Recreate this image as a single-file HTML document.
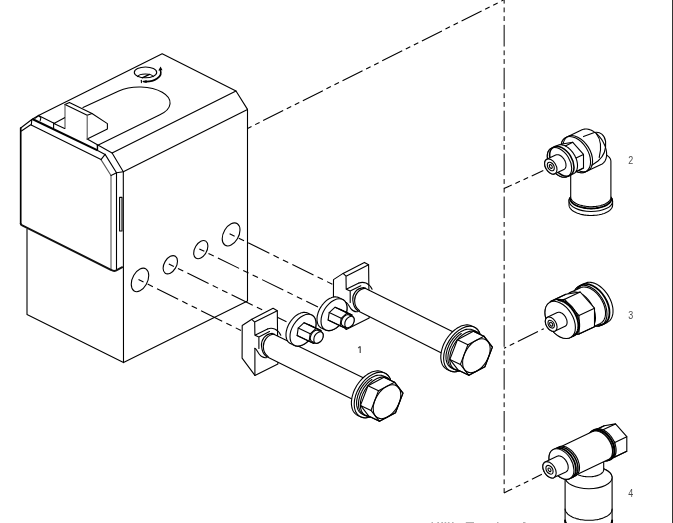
<!DOCTYPE html>
<html><head><meta charset="utf-8">
<style>
html,body{margin:0;padding:0;background:#fff;}
body{width:673px;height:523px;overflow:hidden;position:relative;}
svg{position:absolute;left:0;top:0;}
.l{fill:none;stroke:#000;stroke-width:1.1;stroke-linejoin:round;stroke-linecap:round;}
.w{fill:#fff;stroke:#000;stroke-width:1.1;stroke-linejoin:round;}
.ph{fill:none;stroke:#000;stroke-width:1.1;stroke-dasharray:23 4.5 6 4.5 6 4.5;}
.t{font-family:"Liberation Sans",sans-serif;font-size:10.5px;fill:#4a4a4a;filter:grayscale(1);}
</style></head><body>
<svg width="673" height="523" viewBox="0 0 673 523">
<!-- right border line -->
<rect x="672" y="0" width="1" height="523" fill="#333"/>

<!-- BLOCK -->
<g class="l">
 <!-- top face outline -->
 <path d="M38.5,115.4 L162.2,53.7 L236,91 L247.5,109.4 L247.5,301 L123.5,362.6 L27,314.6 L27,229"/>
 <path d="M236,91 L112.1,153 L123.3,171.7 L247.5,109.4"/>
 <path d="M123.3,171.7 L123.5,362.6"/>
 <!-- top-face left-front edge -->
 <path d="M38.5,115.4 L54,123.2 M87.2,139.1 L112.1,153"/>
 <!-- slot -->
 <path d="M83,107.6 L118.8,91.1 A29,15 0 0 1 159.9,114.8 L97.3,145.4"/>
 <path d="M97.3,145.4 L97.3,150"/>
 <!-- screw hole on top -->
 <ellipse cx="145.5" cy="72.4" rx="11.2" ry="5.35"/>
 <path d="M137.6,76.6 A8,3.4 0 0 1 153.2,76.6"/>
 <path d="M142.2,77.8 L149.5,74.4" style="stroke-width:1.4"/>
 <path d="M143.5,81.5 A15,9 0 0 0 160.2,70" style="stroke-width:1.6"/>
 <path d="M141.4,80.2 L141.4,82.6"/>
</g>
<path d="M160.6,66.6 L158.3,70.6 L162.5,70.2 Z M142.3,81.7 L146.6,79.9 L146.6,83 Z" fill="#000"/>
<!-- fin -->
<path d="M65,104.6 L69.4,102.6 L92,113.5 L107.4,123.6 L107.4,129 L87.2,139.1 L65,128.4 Z" fill="#fff" stroke="none"/>
<g class="l">
 <path d="M65,104.6 L69.4,102.6 L92,113.5 L107.4,123.6 L107.4,129 L87.2,139.1"/>
 <path d="M65,104.6 L87.2,115.3 L92,113.5"/>
 <path d="M87.2,115.3 L87.2,139.1 M65,104.6 L65,128.4" style="stroke:#555"/>
 <path d="M53.9,123.6 L64.6,117.7 M53.9,123.6 L64.6,128.4 M53.6,123 L53.6,128.6"/>
</g>
<!-- panel -->
<g class="l">
 <path d="M31.8,119.5 L38.5,115.4"/>
 <path d="M20.7,224 L20.7,128" style="stroke-width:1.7"/>
 <path d="M20.7,128 L31.8,119.5 L31.3,124.9"/>
 <path d="M21.4,131 L30.7,124.7 L101,159.6"/>
 <path d="M101,159.6 L111,175.5 L111,269.5" style="stroke:#555"/>
 <path d="M105.1,154.4 L116.5,172.8 L116.5,269.8"/>
 <path d="M111,175.5 Q113.5,174.6 116.5,172.8 L123.3,171.7 M101,159.6 L105.1,154.4"/>
 <path d="M119.6,197.4 L122,197.4 L122,231 L119.6,231 Z"/>
</g>
<path d="M32.3,119 L97.6,150.4" fill="none" stroke="#000" stroke-width="2"/>
<path class="l" d="M35,118.4 L38.6,115.8 L40.9,117.6 L40.2,120.6"/>
<path d="M97.6,150.4 L105.1,154.4 M97.6,145.4 L97.6,150.4" class="l"/>
<path d="M20.7,223.2 Q20.7,224.8 22.2,225.4 L111.4,270 Q113.8,271.6 116.3,270.4 L122.8,266.8" fill="none" stroke="#111" stroke-width="2"/>

<!-- holes on right face -->
<g class="l">
 <circle r="1" vector-effect="non-scaling-stroke" transform="matrix(8.75 -4.375 0 10.9 140 279.9)"/>
 <circle r="1" vector-effect="non-scaling-stroke" transform="matrix(7.2 -3.6 0 8.4 170.3 264.75)"/>
 <circle r="1" vector-effect="non-scaling-stroke" transform="matrix(7.1 -3.55 0 8.4 200.8 249.6)"/>
 <circle r="1" vector-effect="non-scaling-stroke" transform="matrix(8.9 -4.45 0 10.6 231.1 234.4)"/>
</g>
<!-- dashed centre lines from holes -->
<g class="ph" style="stroke-dasharray:23.6 4.6 5.9 4.6 5.9 4.6;stroke-dashoffset:28.5">
 <path d="M138.5,279.5 L242,331"/>
 <path d="M168.8,264 L286.5,321.7"/>
 <path d="M199.3,248.9 L318,307"/>
 <path d="M229.6,233.7 L332.7,284.4"/>
</g>
<!-- phantom lines to fittings -->
<path class="ph" style="stroke-dasharray:22.4 4 5 4 5 4;stroke-dashoffset:27" d="M247.6,128.4 L503.5,0"/>
<path class="ph" style="stroke-dasharray:21.6 3.9 4.8 3.9 4.8 3.9;stroke-dashoffset:18;stroke-width:1" d="M504.15,0 L504.15,492.9"/>
<g class="ph" style="stroke-dasharray:22.4 4 5 4 5 4">
 <path style="stroke-dashoffset:13.9" d="M504,188.6 L543.3,170.6"/>
 <path style="stroke-dashoffset:29" d="M504,348.2 L543.8,328.7"/>
 <path style="stroke-dashoffset:13.3" d="M504,492.9 L541.9,474.3"/>
</g>

<path class="w" d="M333.5,279.6 L343.1,273.4 L364.4,262.4 L368.6,264.8 L369.2,318.0 L346.2,329.5 L333.4,312.3 Z" />
<path class="l" transform="translate(91.3 -45.9)" d="M251.8,319.3 L254.7,322.1 L277.3,310.7 M254.7,322.1 L254.9,335.2 L267.6,328.9 M254.9,335.2 L258.9,337 L269.5,331.6 M258.9,337 L258.9,348.4 M254.9,348.4 L254.9,375.4"/>
<path class="w" d="M363.6,287.6 L461.4,336.0 L451.4,358.1 L357.7,310.7 C354.8,308.6 353.3,305.6 352.8,300.1 C352.3,294.1 356.3,288.1 363.6,287.6 Z"/>
<path class="l" transform="translate(91.3 -45.9)" d="M267.6,328.9 C272,327.4 277.6,328.6 280.8,335.2"/>
<path class="l" transform="translate(91.3 -45.9)" d="M274.2,334 C267.5,334.8 263.2,340.5 263.3,346.5 C263.4,351 265,354.5 268.2,356.7"/>
<path class="l" transform="translate(91.3 -45.9)" d="M254.9,348.4 C256.5,348.6 257.5,352 259.5,354.5 C261,356.5 263.5,358 266.4,357.6"/>
<path class="w" d="M471.7,325.9 L470.7,325.5 L469.7,325.2 L468.7,325.0 L467.6,324.9 L466.5,324.9 L465.4,325.0 L464.2,325.2 L463.0,325.5 L461.8,325.8 L460.6,326.3 L459.4,326.9 L458.2,327.5 L457.0,328.3 L455.8,329.1 L454.6,330.0 L453.4,331.0 L452.3,332.0 L451.2,333.1 L450.1,334.3 L449.1,335.5 L448.1,336.8 L447.1,338.2 L446.2,339.5 L445.4,340.9 L444.6,342.4 L443.9,343.8 L443.3,345.3 L442.7,346.8 L442.2,348.3 L441.8,349.8 L441.4,351.3 L441.2,352.7 L441.0,354.2 L440.8,355.6 L440.8,357.0 L440.8,358.3 L441.0,359.6 L441.2,360.8 L441.4,362.0 L441.8,363.2 L442.2,364.2 L442.7,365.2 L443.3,366.1 L443.9,366.9 L444.6,367.7 L445.4,368.4 L446.2,368.9 L447.1,369.4 L449.9,370.8 L450.9,371.2 L451.9,371.4 L452.9,371.7 L454.0,371.8 L455.1,371.8 L456.2,371.7 L457.4,371.5 L458.6,371.2 L459.8,370.8 L461.0,370.4 L462.2,369.8 L463.4,369.1 L464.6,368.4 L465.8,367.6 L467.0,366.7 L468.2,365.7 L469.3,364.6 L470.4,363.5 L471.5,362.4 L472.5,361.1 L473.5,359.8 L474.5,358.5 L475.4,357.1 L476.2,355.7 L477.0,354.3 L477.7,352.8 L478.3,351.3 L478.9,349.8 L479.4,348.4 L479.8,346.9 L480.2,345.4 L480.4,343.9 L480.6,342.5 L480.8,341.1 L480.8,339.7 L480.8,338.4 L480.6,337.1 L480.4,335.8 L480.2,334.6 L479.8,333.5 L479.4,332.4 L478.9,331.5 L478.3,330.5 L477.7,329.7 L477.0,329.0 L476.2,328.3 L475.4,327.7 L474.5,327.2 Z" /><circle r="1" class="w" vector-effect="non-scaling-stroke" transform="matrix(18.600 -9.300 0.000 -20.795 462.20 348.99)" />
<path class="w" d="M472.9,330.0 L472.1,329.7 L471.2,329.4 L470.3,329.3 L469.4,329.2 L468.4,329.2 L467.4,329.2 L466.4,329.4 L465.4,329.6 L464.3,330.0 L463.3,330.4 L462.2,330.9 L461.1,331.4 L460.1,332.1 L459.0,332.8 L458.0,333.6 L457.0,334.4 L456.0,335.4 L455.0,336.3 L454.1,337.4 L453.2,338.4 L452.3,339.6 L451.5,340.7 L450.7,341.9 L450.0,343.1 L449.3,344.4 L448.7,345.7 L448.2,347.0 L447.7,348.2 L447.2,349.5 L446.9,350.8 L446.6,352.1 L446.3,353.4 L446.1,354.7 L446.0,355.9 L446.0,357.1 L446.0,358.3 L446.1,359.4 L446.3,360.5 L446.6,361.5 L446.9,362.5 L447.2,363.4 L447.7,364.3 L448.2,365.1 L448.7,365.8 L449.3,366.4 L450.0,367.0 L450.7,367.5 L451.5,368.0 L455.2,369.7 L456.0,370.0 L456.9,370.3 L457.8,370.5 L458.7,370.6 L459.7,370.6 L460.7,370.5 L461.7,370.3 L462.7,370.1 L463.8,369.8 L464.8,369.4 L465.9,368.9 L467.0,368.3 L468.0,367.6 L469.1,366.9 L470.1,366.1 L471.1,365.3 L472.1,364.4 L473.1,363.4 L474.0,362.4 L474.9,361.3 L475.8,360.2 L476.6,359.0 L477.4,357.8 L478.1,356.6 L478.8,355.3 L479.4,354.1 L479.9,352.8 L480.4,351.5 L480.9,350.2 L481.2,348.9 L481.5,347.6 L481.8,346.3 L482.0,345.1 L482.1,343.9 L482.1,342.6 L482.1,341.5 L482.0,340.4 L481.8,339.3 L481.5,338.2 L481.2,337.3 L480.9,336.3 L480.4,335.5 L479.9,334.7 L479.4,334.0 L478.8,333.3 L478.1,332.7 L477.4,332.2 L476.6,331.8 Z" /><circle r="1" class="w" vector-effect="non-scaling-stroke" transform="matrix(16.200 -8.100 0.000 -18.112 465.90 350.75)" />
<path class="l" d="M461.3,333.5 L460.3,334.2 L459.4,334.9 L458.5,335.7 L457.6,336.5 L456.7,337.4 L455.9,338.4 L455.1,339.4 L454.3,340.4 L453.5,341.4 L452.8,342.5 L452.2,343.6 L451.5,344.7 L451.0,345.9 L450.4,347.0 L449.9,348.2 L449.5,349.4 L449.1,350.6 L448.8,351.8 L448.5,352.9 L448.2,354.1 L448.1,355.2 L448.0,356.4 L447.9,357.5 L447.9,358.5 L448.0,359.6 L448.1,360.6 L448.2,361.6 L448.5,362.5 L448.8,363.4 L449.1,364.2 L449.5,365.0 L449.9,365.7 L450.4,366.4 L451.0,367.0 L451.5,367.6 L452.2,368.1 L452.8,368.5 L453.5,368.9 L454.3,369.2 L455.1,369.4 L455.9,369.6 L456.7,369.7 L457.6,369.7 L458.5,369.7 L459.4,369.6 L460.3,369.4 L461.3,369.1" />
<path class="w" d="M449.9,359.4 L457.4,339.8 L473.4,331.2 L483.9,336.2 L492.4,347.1 L484.9,366.7 L468.9,375.3 L458.4,370.3 Z" /><path class="l" d="M483.9,336.2 L467.9,344.8 L460.4,364.4 L468.9,375.3 L484.9,366.7 L492.4,347.1 Z" /><path class="l" d="M473.4,331.2 L483.9,336.2" /><path class="l" d="M457.4,339.8 L467.9,344.8" /><path class="l" d="M449.9,359.4 L460.4,364.4" /><path class="l" d="M458.4,370.3 L468.9,375.3" />
<circle r="1" class="l" vector-effect="non-scaling-stroke" transform="matrix(13.800 -6.900 0.000 -15.428 476.40 355.74)" />
<path class="w" d="M338.6,297.6 L337.9,297.3 L337.2,297.1 L336.5,297.0 L335.7,296.9 L335.0,296.9 L334.2,296.9 L333.4,297.1 L332.5,297.3 L331.7,297.5 L330.9,297.9 L330.0,298.3 L329.1,298.7 L328.3,299.2 L327.5,299.8 L326.6,300.4 L325.8,301.1 L325.0,301.9 L324.3,302.6 L323.5,303.5 L322.8,304.3 L322.1,305.2 L321.4,306.2 L320.8,307.1 L320.2,308.1 L319.7,309.1 L319.2,310.1 L318.7,311.2 L318.3,312.2 L318.0,313.2 L317.7,314.3 L317.4,315.3 L317.2,316.3 L317.1,317.3 L317.0,318.3 L317.0,319.3 L317.0,320.2 L317.1,321.1 L317.2,322.0 L317.4,322.8 L317.7,323.6 L318.0,324.4 L318.3,325.1 L318.7,325.7 L319.2,326.3 L319.7,326.8 L320.2,327.3 L320.8,327.7 L321.4,328.0 L325.4,329.9 L326.1,330.2 L326.8,330.4 L327.5,330.5 L328.3,330.6 L329.0,330.6 L329.8,330.6 L330.6,330.4 L331.5,330.2 L332.3,330.0 L333.1,329.6 L334.0,329.2 L334.9,328.8 L335.7,328.3 L336.5,327.7 L337.4,327.1 L338.2,326.4 L339.0,325.6 L339.7,324.9 L340.5,324.0 L341.2,323.2 L341.9,322.3 L342.6,321.3 L343.2,320.4 L343.8,319.4 L344.3,318.4 L344.8,317.4 L345.3,316.3 L345.7,315.3 L346.0,314.3 L346.3,313.2 L346.6,312.2 L346.8,311.2 L346.9,310.2 L347.0,309.2 L347.0,308.2 L347.0,307.3 L346.9,306.4 L346.8,305.5 L346.6,304.7 L346.3,303.9 L346.0,303.1 L345.7,302.4 L345.3,301.8 L344.8,301.2 L344.3,300.7 L343.8,300.2 L343.2,299.8 L342.6,299.5 Z" /><circle r="1" class="w" vector-effect="non-scaling-stroke" transform="matrix(13.000 -6.500 0.000 -14.534 334.00 314.70)" />
<path class="w" d="M328.1,320.1 L329.2,312.6 L335.1,307.2 L339.9,309.3 L351.9,315.0 L350.8,322.5 L344.9,327.9 L340.1,325.8 Z" /><path class="l" d="M351.9,315.0 L347.1,312.9 L341.2,318.3 L340.1,325.8 L344.9,327.9 L350.8,322.5 Z" /><path class="l" d="M339.9,309.3 L351.9,315.0" /><path class="l" d="M335.1,307.2 L347.1,312.9" /><path class="l" d="M329.2,312.6 L341.2,318.3" /><path class="l" d="M328.1,320.1 L340.1,325.8" />
<path class="w" d="M349.1,314.9 L348.9,314.8 L348.6,314.7 L348.4,314.7 L348.1,314.6 L347.8,314.6 L347.5,314.7 L347.2,314.7 L346.9,314.8 L346.6,314.9 L346.3,315.0 L346.0,315.1 L345.7,315.3 L345.4,315.5 L345.1,315.7 L344.8,315.9 L344.5,316.2 L344.2,316.4 L343.9,316.7 L343.6,317.0 L343.4,317.3 L343.1,317.7 L342.9,318.0 L342.7,318.3 L342.5,318.7 L342.3,319.1 L342.1,319.4 L341.9,319.8 L341.8,320.2 L341.7,320.6 L341.5,320.9 L341.5,321.3 L341.4,321.7 L341.3,322.0 L341.3,322.4 L341.3,322.8 L341.3,323.1 L341.3,323.4 L341.4,323.7 L341.5,324.0 L341.5,324.3 L341.7,324.6 L341.8,324.8 L341.9,325.1 L342.1,325.3 L342.3,325.5 L342.5,325.6 L342.7,325.8 L342.9,325.9 L346.4,327.6 L346.6,327.7 L346.9,327.7 L347.1,327.8 L347.4,327.8 L347.7,327.8 L348.0,327.8 L348.3,327.7 L348.6,327.7 L348.9,327.6 L349.2,327.5 L349.5,327.3 L349.8,327.2 L350.1,327.0 L350.4,326.8 L350.7,326.5 L351.0,326.3 L351.3,326.0 L351.6,325.7 L351.9,325.4 L352.1,325.1 L352.4,324.8 L352.6,324.5 L352.8,324.1 L353.0,323.8 L353.2,323.4 L353.4,323.0 L353.6,322.7 L353.7,322.3 L353.8,321.9 L354.0,321.5 L354.0,321.2 L354.1,320.8 L354.2,320.4 L354.2,320.1 L354.2,319.7 L354.2,319.4 L354.2,319.0 L354.1,318.7 L354.0,318.4 L354.0,318.1 L353.8,317.9 L353.7,317.6 L353.6,317.4 L353.4,317.2 L353.2,317.0 L353.0,316.8 L352.8,316.7 L352.6,316.6 Z" /><circle r="1" class="w" vector-effect="non-scaling-stroke" transform="matrix(4.700 -2.350 0.000 -5.255 349.50 322.06)" />
<path class="w" d="M242.2,325.5 L251.8,319.3 L273.1,308.3 L277.3,310.7 L277.9,363.9 L254.9,375.4 L242.1,358.2 Z" />
<path class="l" transform="translate(0 0)" d="M251.8,319.3 L254.7,322.1 L277.3,310.7 M254.7,322.1 L254.9,335.2 L267.6,328.9 M254.9,335.2 L258.9,337 L269.5,331.6 M258.9,337 L258.9,348.4 M254.9,348.4 L254.9,375.4"/>
<path class="w" d="M272.3,333.4 L372.0,382.0 L362.0,404.1 L266.4,356.6 C263.5,354.5 262.0,351.5 261.5,346.0 C261.0,340.0 265.0,334.0 272.3,333.4 Z"/>
<path class="l" transform="translate(0 0)" d="M267.6,328.9 C272,327.4 277.6,328.6 280.8,335.2"/>
<path class="l" transform="translate(0 0)" d="M274.2,334 C267.5,334.8 263.2,340.5 263.3,346.5 C263.4,351 265,354.5 268.2,356.7"/>
<path class="l" transform="translate(0 0)" d="M254.9,348.4 C256.5,348.6 257.5,352 259.5,354.5 C261,356.5 263.5,358 266.4,357.6"/>
<path class="w" d="M382.3,371.9 L381.3,371.5 L380.3,371.2 L379.3,371.0 L378.2,370.9 L377.1,370.9 L376.0,371.0 L374.8,371.2 L373.6,371.5 L372.4,371.8 L371.2,372.3 L370.0,372.9 L368.8,373.5 L367.6,374.3 L366.4,375.1 L365.2,376.0 L364.0,377.0 L362.9,378.0 L361.8,379.1 L360.7,380.3 L359.7,381.5 L358.7,382.8 L357.7,384.2 L356.8,385.5 L356.0,386.9 L355.2,388.4 L354.5,389.8 L353.9,391.3 L353.3,392.8 L352.8,394.3 L352.4,395.8 L352.0,397.3 L351.8,398.7 L351.6,400.2 L351.4,401.6 L351.4,403.0 L351.4,404.3 L351.6,405.6 L351.8,406.8 L352.0,408.0 L352.4,409.2 L352.8,410.2 L353.3,411.2 L353.9,412.1 L354.5,412.9 L355.2,413.7 L356.0,414.4 L356.8,414.9 L357.7,415.4 L360.5,416.8 L361.5,417.2 L362.5,417.4 L363.5,417.7 L364.6,417.8 L365.7,417.8 L366.8,417.7 L368.0,417.5 L369.2,417.2 L370.4,416.8 L371.6,416.4 L372.8,415.8 L374.0,415.1 L375.2,414.4 L376.4,413.6 L377.6,412.7 L378.8,411.7 L379.9,410.6 L381.0,409.5 L382.1,408.4 L383.1,407.1 L384.1,405.8 L385.1,404.5 L386.0,403.1 L386.8,401.7 L387.6,400.3 L388.3,398.8 L388.9,397.3 L389.5,395.8 L390.0,394.4 L390.4,392.9 L390.8,391.4 L391.0,389.9 L391.2,388.5 L391.4,387.1 L391.4,385.7 L391.4,384.4 L391.2,383.1 L391.0,381.8 L390.8,380.6 L390.4,379.5 L390.0,378.4 L389.5,377.5 L388.9,376.5 L388.3,375.7 L387.6,375.0 L386.8,374.3 L386.0,373.7 L385.1,373.2 Z" /><circle r="1" class="w" vector-effect="non-scaling-stroke" transform="matrix(18.600 -9.300 0.000 -20.795 372.80 394.99)" />
<path class="w" d="M383.5,376.0 L382.7,375.7 L381.8,375.4 L380.9,375.3 L380.0,375.2 L379.0,375.2 L378.0,375.2 L377.0,375.4 L376.0,375.6 L374.9,376.0 L373.9,376.4 L372.8,376.9 L371.7,377.4 L370.7,378.1 L369.6,378.8 L368.6,379.6 L367.6,380.4 L366.6,381.4 L365.6,382.3 L364.7,383.4 L363.8,384.4 L362.9,385.6 L362.1,386.7 L361.3,387.9 L360.6,389.1 L359.9,390.4 L359.3,391.7 L358.8,393.0 L358.3,394.2 L357.8,395.5 L357.5,396.8 L357.2,398.1 L356.9,399.4 L356.7,400.7 L356.6,401.9 L356.6,403.1 L356.6,404.3 L356.7,405.4 L356.9,406.5 L357.2,407.5 L357.5,408.5 L357.8,409.4 L358.3,410.3 L358.8,411.1 L359.3,411.8 L359.9,412.4 L360.6,413.0 L361.3,413.5 L362.1,414.0 L365.8,415.7 L366.6,416.0 L367.5,416.3 L368.4,416.5 L369.3,416.6 L370.3,416.6 L371.3,416.5 L372.3,416.3 L373.3,416.1 L374.4,415.8 L375.4,415.4 L376.5,414.9 L377.6,414.3 L378.6,413.6 L379.7,412.9 L380.7,412.1 L381.7,411.3 L382.7,410.4 L383.7,409.4 L384.6,408.4 L385.5,407.3 L386.4,406.2 L387.2,405.0 L388.0,403.8 L388.7,402.6 L389.4,401.3 L390.0,400.1 L390.5,398.8 L391.0,397.5 L391.5,396.2 L391.8,394.9 L392.1,393.6 L392.4,392.3 L392.6,391.1 L392.7,389.9 L392.7,388.6 L392.7,387.5 L392.6,386.4 L392.4,385.3 L392.1,384.2 L391.8,383.3 L391.5,382.3 L391.0,381.5 L390.5,380.7 L390.0,380.0 L389.4,379.3 L388.7,378.7 L388.0,378.2 L387.2,377.8 Z" /><circle r="1" class="w" vector-effect="non-scaling-stroke" transform="matrix(16.200 -8.100 0.000 -18.112 376.50 396.75)" />
<path class="l" d="M371.9,379.5 L370.9,380.2 L370.0,380.9 L369.1,381.7 L368.2,382.5 L367.3,383.4 L366.5,384.4 L365.7,385.4 L364.9,386.4 L364.1,387.4 L363.4,388.5 L362.8,389.6 L362.1,390.7 L361.6,391.9 L361.0,393.0 L360.5,394.2 L360.1,395.4 L359.7,396.6 L359.4,397.8 L359.1,398.9 L358.8,400.1 L358.7,401.2 L358.6,402.4 L358.5,403.5 L358.5,404.5 L358.6,405.6 L358.7,406.6 L358.8,407.6 L359.1,408.5 L359.4,409.4 L359.7,410.2 L360.1,411.0 L360.5,411.7 L361.0,412.4 L361.6,413.0 L362.1,413.6 L362.8,414.1 L363.4,414.5 L364.1,414.9 L364.9,415.2 L365.7,415.4 L366.5,415.6 L367.3,415.7 L368.2,415.7 L369.1,415.7 L370.0,415.6 L370.9,415.4 L371.9,415.1" />
<path class="w" d="M360.5,405.4 L368.0,385.8 L384.0,377.2 L394.5,382.2 L403.0,393.1 L395.5,412.7 L379.5,421.3 L369.0,416.3 Z" /><path class="l" d="M394.5,382.2 L378.5,390.8 L371.0,410.4 L379.5,421.3 L395.5,412.7 L403.0,393.1 Z" /><path class="l" d="M384.0,377.2 L394.5,382.2" /><path class="l" d="M368.0,385.8 L378.5,390.8" /><path class="l" d="M360.5,405.4 L371.0,410.4" /><path class="l" d="M369.0,416.3 L379.5,421.3" />
<circle r="1" class="l" vector-effect="non-scaling-stroke" transform="matrix(13.800 -6.900 0.000 -15.428 387.00 401.74)" />
<path class="w" d="M307.6,313.1 L306.9,312.8 L306.2,312.6 L305.5,312.5 L304.7,312.4 L304.0,312.4 L303.2,312.4 L302.4,312.6 L301.5,312.8 L300.7,313.0 L299.9,313.4 L299.0,313.8 L298.1,314.2 L297.3,314.7 L296.5,315.3 L295.6,315.9 L294.8,316.6 L294.0,317.4 L293.3,318.1 L292.5,319.0 L291.8,319.8 L291.1,320.7 L290.4,321.7 L289.8,322.6 L289.2,323.6 L288.7,324.6 L288.2,325.6 L287.7,326.7 L287.3,327.7 L287.0,328.7 L286.7,329.8 L286.4,330.8 L286.2,331.8 L286.1,332.8 L286.0,333.8 L286.0,334.8 L286.0,335.7 L286.1,336.6 L286.2,337.5 L286.4,338.3 L286.7,339.1 L287.0,339.9 L287.3,340.6 L287.7,341.2 L288.2,341.8 L288.7,342.3 L289.2,342.8 L289.8,343.2 L290.4,343.5 L294.4,345.4 L295.1,345.7 L295.8,345.9 L296.5,346.0 L297.3,346.1 L298.0,346.1 L298.8,346.1 L299.6,345.9 L300.5,345.7 L301.3,345.5 L302.1,345.1 L303.0,344.7 L303.9,344.3 L304.7,343.8 L305.5,343.2 L306.4,342.6 L307.2,341.9 L308.0,341.1 L308.7,340.4 L309.5,339.5 L310.2,338.7 L310.9,337.8 L311.6,336.8 L312.2,335.9 L312.8,334.9 L313.3,333.9 L313.8,332.9 L314.3,331.8 L314.7,330.8 L315.0,329.8 L315.3,328.7 L315.6,327.7 L315.8,326.7 L315.9,325.7 L316.0,324.7 L316.0,323.7 L316.0,322.8 L315.9,321.9 L315.8,321.0 L315.6,320.2 L315.3,319.4 L315.0,318.6 L314.7,317.9 L314.3,317.3 L313.8,316.7 L313.3,316.2 L312.8,315.7 L312.2,315.3 L311.6,315.0 Z" /><circle r="1" class="w" vector-effect="non-scaling-stroke" transform="matrix(13.000 -6.500 0.000 -14.534 303.00 330.20)" />
<path class="w" d="M297.1,335.6 L298.2,328.1 L304.1,322.7 L308.9,324.8 L320.9,330.5 L319.8,338.0 L313.9,343.4 L309.1,341.3 Z" /><path class="l" d="M320.9,330.5 L316.1,328.4 L310.2,333.8 L309.1,341.3 L313.9,343.4 L319.8,338.0 Z" /><path class="l" d="M308.9,324.8 L320.9,330.5" /><path class="l" d="M304.1,322.7 L316.1,328.4" /><path class="l" d="M298.2,328.1 L310.2,333.8" /><path class="l" d="M297.1,335.6 L309.1,341.3" />
<path class="w" d="M318.1,330.4 L317.9,330.3 L317.6,330.2 L317.4,330.2 L317.1,330.1 L316.8,330.1 L316.5,330.2 L316.2,330.2 L315.9,330.3 L315.6,330.4 L315.3,330.5 L315.0,330.6 L314.7,330.8 L314.4,331.0 L314.1,331.2 L313.8,331.4 L313.5,331.7 L313.2,331.9 L312.9,332.2 L312.6,332.5 L312.4,332.8 L312.1,333.2 L311.9,333.5 L311.7,333.8 L311.5,334.2 L311.3,334.6 L311.1,334.9 L310.9,335.3 L310.8,335.7 L310.7,336.1 L310.5,336.4 L310.5,336.8 L310.4,337.2 L310.3,337.5 L310.3,337.9 L310.3,338.3 L310.3,338.6 L310.3,338.9 L310.4,339.2 L310.5,339.5 L310.5,339.8 L310.7,340.1 L310.8,340.3 L310.9,340.6 L311.1,340.8 L311.3,341.0 L311.5,341.1 L311.7,341.3 L311.9,341.4 L315.4,343.1 L315.6,343.2 L315.9,343.2 L316.1,343.3 L316.4,343.3 L316.7,343.3 L317.0,343.3 L317.3,343.2 L317.6,343.2 L317.9,343.1 L318.2,343.0 L318.5,342.8 L318.8,342.7 L319.1,342.5 L319.4,342.3 L319.7,342.0 L320.0,341.8 L320.3,341.5 L320.6,341.2 L320.9,340.9 L321.1,340.6 L321.4,340.3 L321.6,340.0 L321.8,339.6 L322.0,339.3 L322.2,338.9 L322.4,338.5 L322.6,338.2 L322.7,337.8 L322.8,337.4 L323.0,337.0 L323.0,336.7 L323.1,336.3 L323.2,335.9 L323.2,335.6 L323.2,335.2 L323.2,334.9 L323.2,334.5 L323.1,334.2 L323.0,333.9 L323.0,333.6 L322.8,333.4 L322.7,333.1 L322.6,332.9 L322.4,332.7 L322.2,332.5 L322.0,332.3 L321.8,332.2 L321.6,332.1 Z" /><circle r="1" class="w" vector-effect="non-scaling-stroke" transform="matrix(4.700 -2.350 0.000 -5.255 318.50 337.56)" />
<path class="w" d="M607.3,322.4 L608.1,321.9 L608.8,321.4 L609.5,320.8 L610.2,320.1 L610.7,319.3 L611.3,318.5 L611.7,317.6 L612.1,316.7 L612.4,315.6 L612.7,314.6 L612.9,313.4 L613.0,312.3 L613.0,311.1 L613.0,309.8 L612.9,308.5 L612.7,307.2 L612.4,305.9 L612.1,304.6 L611.7,303.2 L611.3,301.9 L610.7,300.6 L610.2,299.2 L609.5,297.9 L608.8,296.6 L608.1,295.4 L607.3,294.1 L606.4,292.9 L605.5,291.8 L604.6,290.7 L603.6,289.6 L602.6,288.6 L601.6,287.7 L600.5,286.8 L599.5,286.0 L598.4,285.3 L597.3,284.6 L596.2,284.0 L595.1,283.5 L594.0,283.1 L592.9,282.8 L591.9,282.6 L590.8,282.4 L589.8,282.3 L588.8,282.3 L587.8,282.4 L586.9,282.6 L586.0,282.9 L585.1,283.3 L579.1,286.1 L578.3,286.6 L577.6,287.1 L576.9,287.7 L576.2,288.4 L575.7,289.2 L575.1,290.0 L574.7,290.9 L574.3,291.8 L574.0,292.9 L573.7,293.9 L573.5,295.1 L573.4,296.2 L573.4,297.4 L573.4,298.7 L573.5,300.0 L573.7,301.3 L574.0,302.6 L574.3,303.9 L574.7,305.3 L575.1,306.6 L575.7,307.9 L576.2,309.3 L576.9,310.6 L577.6,311.9 L578.3,313.1 L579.1,314.4 L580.0,315.6 L580.9,316.7 L581.8,317.8 L582.8,318.9 L583.8,319.9 L584.8,320.8 L585.9,321.7 L586.9,322.5 L588.0,323.2 L589.1,323.9 L590.2,324.5 L591.3,325.0 L592.4,325.4 L593.5,325.7 L594.5,325.9 L595.6,326.1 L596.6,326.2 L597.6,326.2 L598.6,326.1 L599.5,325.9 L600.4,325.6 L601.3,325.2 Z" /><circle r="1" class="w" vector-effect="non-scaling-stroke" transform="matrix(16.800 8.232 0.000 -18.782 590.20 305.68)" />
<circle r="1" class="l" vector-effect="non-scaling-stroke" transform="matrix(16.800 8.232 0.000 -18.782 592.70 304.49)" style="stroke-width:1.8"/>
<path class="w" d="M600.3,323.5 L601.0,323.1 L601.7,322.6 L602.3,322.0 L602.9,321.4 L603.5,320.7 L603.9,320.0 L604.3,319.1 L604.7,318.3 L605.0,317.3 L605.2,316.4 L605.4,315.3 L605.5,314.3 L605.5,313.2 L605.5,312.0 L605.4,310.9 L605.2,309.7 L605.0,308.5 L604.7,307.3 L604.3,306.1 L603.9,304.8 L603.5,303.6 L602.9,302.4 L602.3,301.2 L601.7,300.0 L601.0,298.9 L600.3,297.8 L599.5,296.7 L598.7,295.6 L597.9,294.6 L597.0,293.6 L596.1,292.7 L595.1,291.9 L594.2,291.1 L593.2,290.4 L592.2,289.7 L591.2,289.1 L590.2,288.6 L589.2,288.1 L588.2,287.7 L587.2,287.4 L586.2,287.2 L585.3,287.1 L584.3,287.0 L583.4,287.0 L582.6,287.1 L581.7,287.3 L580.9,287.5 L580.1,287.9 L570.1,292.6 L569.4,293.0 L568.7,293.5 L568.1,294.1 L567.5,294.7 L566.9,295.4 L566.5,296.1 L566.1,297.0 L565.7,297.8 L565.4,298.8 L565.2,299.7 L565.0,300.8 L564.9,301.8 L564.9,302.9 L564.9,304.1 L565.0,305.2 L565.2,306.4 L565.4,307.6 L565.7,308.8 L566.1,310.0 L566.5,311.3 L566.9,312.5 L567.5,313.7 L568.1,314.9 L568.7,316.1 L569.4,317.2 L570.1,318.3 L570.9,319.4 L571.7,320.5 L572.6,321.5 L573.4,322.5 L574.3,323.4 L575.3,324.2 L576.2,325.0 L577.2,325.7 L578.2,326.4 L579.2,327.0 L580.2,327.5 L581.2,328.0 L582.2,328.4 L583.2,328.7 L584.2,328.9 L585.1,329.0 L586.1,329.1 L587.0,329.1 L587.9,329.0 L588.7,328.8 L589.5,328.6 L590.3,328.2 Z" /><circle r="1" class="w" vector-effect="non-scaling-stroke" transform="matrix(15.300 7.497 0.000 -17.105 580.20 310.43)" />
<path class="w" d="M550.4,301.6 L565.9,294.2 L580.2,292.0 L594.5,308.2 L594.5,326.7 L579.0,334.0 L564.7,336.2 L550.4,320.0 Z" /><path class="l" d="M579.0,315.6 L564.7,299.3 L550.4,301.6 L550.4,320.0 L564.7,336.2 L579.0,334.0 Z" /><path class="l" d="M594.5,308.2 L579.0,315.6" /><path class="l" d="M580.2,292.0 L564.7,299.3" /><path class="l" d="M565.9,294.2 L550.4,301.6" /><path class="l" d="M594.5,326.7 L579.0,334.0" />
<path class="w" d="M574.3,334.8 L575.0,334.4 L575.7,333.9 L576.3,333.4 L576.8,332.8 L577.3,332.1 L577.8,331.4 L578.2,330.6 L578.5,329.8 L578.8,328.9 L579.0,328.0 L579.2,327.0 L579.3,326.0 L579.3,324.9 L579.3,323.9 L579.2,322.7 L579.0,321.6 L578.8,320.5 L578.5,319.3 L578.2,318.2 L577.8,317.0 L577.3,315.8 L576.8,314.7 L576.3,313.5 L575.7,312.4 L575.0,311.3 L574.3,310.2 L573.6,309.2 L572.8,308.2 L572.0,307.2 L571.2,306.3 L570.3,305.4 L569.4,304.6 L568.5,303.9 L567.5,303.2 L566.6,302.5 L565.7,302.0 L564.7,301.5 L563.7,301.0 L562.8,300.7 L561.9,300.4 L560.9,300.2 L560.0,300.0 L559.1,300.0 L558.2,300.0 L557.4,300.1 L556.6,300.2 L555.8,300.5 L555.1,300.8 L553.6,301.5 L552.9,301.9 L552.2,302.4 L551.6,302.9 L551.1,303.5 L550.6,304.1 L550.1,304.9 L549.7,305.6 L549.4,306.5 L549.1,307.4 L548.9,308.3 L548.7,309.3 L548.6,310.3 L548.6,311.3 L548.6,312.4 L548.7,313.5 L548.9,314.7 L549.1,315.8 L549.4,317.0 L549.7,318.1 L550.1,319.3 L550.6,320.5 L551.1,321.6 L551.6,322.8 L552.2,323.9 L552.9,325.0 L553.6,326.1 L554.3,327.1 L555.1,328.1 L555.9,329.1 L556.7,330.0 L557.6,330.8 L558.5,331.7 L559.4,332.4 L560.4,333.1 L561.3,333.7 L562.2,334.3 L563.2,334.8 L564.2,335.3 L565.1,335.6 L566.0,335.9 L567.0,336.1 L567.9,336.3 L568.8,336.3 L569.7,336.3 L570.5,336.2 L571.3,336.0 L572.1,335.8 L572.8,335.5 Z" /><circle r="1" class="w" vector-effect="non-scaling-stroke" transform="matrix(14.600 7.154 0.000 -16.323 563.20 318.50)" />
<path class="w" d="M574.4,335.6 L575.1,335.2 L575.8,334.7 L576.5,334.2 L577.0,333.6 L577.6,332.9 L578.0,332.1 L578.4,331.3 L578.8,330.4 L579.1,329.5 L579.3,328.6 L579.5,327.5 L579.6,326.5 L579.6,325.4 L579.6,324.3 L579.5,323.1 L579.3,321.9 L579.1,320.7 L578.8,319.5 L578.4,318.3 L578.0,317.1 L577.6,315.9 L577.0,314.7 L576.5,313.5 L575.8,312.3 L575.1,311.2 L574.4,310.1 L573.7,309.0 L572.8,307.9 L572.0,306.9 L571.1,306.0 L570.2,305.1 L569.3,304.2 L568.3,303.4 L567.4,302.7 L566.4,302.1 L565.4,301.5 L564.4,300.9 L563.4,300.5 L562.4,300.1 L561.4,299.8 L560.5,299.6 L559.5,299.4 L558.6,299.4 L557.7,299.4 L556.8,299.5 L556.0,299.7 L555.1,299.9 L554.4,300.2 L550.2,302.2 L549.5,302.6 L548.8,303.1 L548.1,303.7 L547.6,304.3 L547.0,305.0 L546.6,305.7 L546.2,306.5 L545.8,307.4 L545.5,308.3 L545.3,309.3 L545.1,310.3 L545.0,311.4 L545.0,312.5 L545.0,313.6 L545.1,314.8 L545.3,315.9 L545.5,317.1 L545.8,318.3 L546.2,319.5 L546.6,320.8 L547.0,322.0 L547.6,323.2 L548.1,324.4 L548.8,325.5 L549.5,326.7 L550.2,327.8 L550.9,328.9 L551.8,329.9 L552.6,330.9 L553.5,331.9 L554.4,332.8 L555.3,333.6 L556.3,334.4 L557.2,335.1 L558.2,335.8 L559.2,336.4 L560.2,336.9 L561.2,337.4 L562.2,337.7 L563.2,338.0 L564.1,338.3 L565.1,338.4 L566.0,338.5 L566.9,338.5 L567.8,338.4 L568.6,338.2 L569.5,337.9 L570.2,337.6 Z" /><path class="l" style="stroke-width:1.9" d="M568.5,336.7 L569.5,336.7 L570.4,336.7 L571.2,336.5 L572.1,336.3 L572.9,336.1 L573.6,335.7 L574.3,335.2 L575.0,334.7 L575.6,334.1 L576.2,333.5 L576.7,332.7 L577.1,331.9 L577.5,331.1 L577.8,330.2 L578.0,329.2 L578.2,328.2 L578.3,327.2 L578.4,326.1 L578.4,324.9 L578.3,323.8 L578.2,322.6 L577.9,321.4 L577.7,320.2 L577.3,319.0 L576.9,317.7 L576.4,316.5 L575.9,315.3 L575.3,314.1 L574.7,312.9 L574.0,311.8 L573.3,310.7 L572.5,309.6 L571.7,308.5 L570.9,307.5 L570.0,306.5 L569.1,305.6 L568.1,304.8 L567.1,304.0 L566.2,303.3 L565.2,302.6 L564.2,302.0 L563.2,301.5 L562.2,301.1 L561.2,300.7 L560.2,300.5 L559.2,300.3 L558.3,300.1" /><circle r="1" class="w" vector-effect="non-scaling-stroke" transform="matrix(15.200 7.448 0.000 -16.994 560.20 319.93)" />
<path class="w" d="M565.1,326.3 L565.4,326.2 L565.6,326.0 L565.9,325.8 L566.1,325.5 L566.3,325.3 L566.5,325.0 L566.7,324.6 L566.8,324.3 L566.9,323.9 L567.0,323.6 L567.0,323.2 L567.1,322.8 L567.1,322.3 L567.1,321.9 L567.0,321.5 L567.0,321.0 L566.9,320.5 L566.8,320.1 L566.7,319.6 L566.5,319.1 L566.3,318.7 L566.1,318.2 L565.9,317.7 L565.6,317.3 L565.4,316.8 L565.1,316.4 L564.8,316.0 L564.5,315.6 L564.2,315.2 L563.8,314.8 L563.5,314.5 L563.1,314.1 L562.7,313.8 L562.4,313.5 L562.0,313.3 L561.6,313.1 L561.2,312.9 L560.8,312.7 L560.4,312.5 L560.0,312.4 L559.7,312.3 L559.3,312.3 L558.9,312.2 L558.6,312.3 L558.2,312.3 L557.9,312.4 L557.6,312.5 L557.3,312.6 L547.3,317.3 L547.0,317.5 L546.8,317.7 L546.5,317.9 L546.3,318.1 L546.1,318.4 L545.9,318.7 L545.7,319.0 L545.6,319.3 L545.5,319.7 L545.4,320.1 L545.4,320.5 L545.3,320.9 L545.3,321.3 L545.3,321.7 L545.4,322.2 L545.4,322.7 L545.5,323.1 L545.6,323.6 L545.7,324.1 L545.9,324.5 L546.1,325.0 L546.3,325.5 L546.5,325.9 L546.8,326.4 L547.0,326.8 L547.3,327.3 L547.6,327.7 L547.9,328.1 L548.2,328.5 L548.6,328.8 L548.9,329.2 L549.3,329.5 L549.7,329.8 L550.0,330.1 L550.4,330.4 L550.8,330.6 L551.2,330.8 L551.6,331.0 L552.0,331.1 L552.4,331.2 L552.7,331.3 L553.1,331.4 L553.5,331.4 L553.8,331.4 L554.2,331.4 L554.5,331.3 L554.8,331.2 L555.1,331.1 Z" /><circle r="1" class="w" vector-effect="non-scaling-stroke" transform="matrix(5.900 2.891 0.000 -6.596 551.20 324.20)" />
<circle r="1" class="l" vector-effect="non-scaling-stroke" transform="matrix(3.200 1.568 0.000 -3.578 551.20 324.20)" />
<circle r="1" class="l" vector-effect="non-scaling-stroke" transform="matrix(1.600 0.784 0.000 -1.789 551.20 324.20)" />
<path class="w" d="M569.0,204.8 L569.1,205.5 L569.2,206.2 L569.4,206.9 L569.8,207.6 L570.2,208.2 L570.7,208.9 L571.3,209.5 L571.9,210.1 L572.7,210.7 L573.5,211.3 L574.4,211.8 L575.4,212.3 L576.4,212.8 L577.5,213.2 L578.7,213.6 L579.9,214.0 L581.2,214.4 L582.5,214.6 L583.8,214.9 L585.2,215.1 L586.6,215.3 L588.0,215.4 L589.4,215.5 L590.8,215.5 L592.2,215.5 L593.6,215.4 L595.0,215.3 L596.4,215.2 L597.8,215.0 L599.1,214.8 L600.4,214.5 L601.7,214.2 L602.9,213.8 L604.1,213.4 L605.2,213.0 L606.2,212.5 L607.2,212.1 L608.1,211.5 L608.9,211.0 L609.7,210.4 L610.3,209.8 L610.9,209.2 L611.4,208.5 L611.8,207.9 L612.2,207.2 L612.4,206.5 L612.5,205.9 L612.6,205.2 L612.6,201.2 L612.5,200.5 L612.4,199.8 L612.2,199.1 L611.8,198.4 L611.4,197.8 L610.9,197.1 L610.3,196.5 L609.7,195.9 L608.9,195.3 L608.1,194.7 L607.2,194.2 L606.2,193.7 L605.2,193.2 L604.1,192.8 L602.9,192.4 L601.7,192.0 L600.4,191.6 L599.1,191.4 L597.8,191.1 L596.4,190.9 L595.0,190.7 L593.6,190.6 L592.2,190.5 L590.8,190.5 L589.4,190.5 L588.0,190.6 L586.6,190.7 L585.2,190.8 L583.8,191.0 L582.5,191.2 L581.2,191.5 L579.9,191.8 L578.7,192.2 L577.5,192.6 L576.4,193.0 L575.4,193.5 L574.4,193.9 L573.5,194.5 L572.7,195.0 L571.9,195.6 L571.3,196.2 L570.7,196.8 L570.2,197.5 L569.8,198.1 L569.4,198.8 L569.2,199.5 L569.1,200.1 L569.0,200.8 Z" /><circle r="1" class="w" vector-effect="non-scaling-stroke" transform="matrix(15.400 7.546 15.400 -7.315 590.80 201.00)" />
<path class="l" style="stroke-width:1.8" d="M570.2,198.5 L570.2,199.2 L570.4,199.8 L570.6,200.5 L571.0,201.2 L571.4,201.8 L571.9,202.4 L572.5,203.0 L573.2,203.6 L574.0,204.2 L574.8,204.7 L575.7,205.2 L576.7,205.7 L577.7,206.1 L578.8,206.5 L580.0,206.9 L581.2,207.2 L582.4,207.5 L583.7,207.8 L585.0,208.0 L586.4,208.2 L587.7,208.3 L589.1,208.4 L590.5,208.5 L591.8,208.5 L593.2,208.4 L594.6,208.3 L595.9,208.2 L597.3,208.0 L598.6,207.8 L599.8,207.5 L601.0,207.2 L602.2,206.9 L603.3,206.5 L604.4,206.1 L605.4,205.6 L606.4,205.2 L607.2,204.7 L608.0,204.1 L608.7,203.6 L609.4,203.0 L609.9,202.4 L610.4,201.8 L610.8,201.1 L611.1,200.5 L611.3,199.8 L611.4,199.1 L611.4,198.5" />
<path class="w" d="M570.7,196.8 L570.8,197.5 L570.9,198.1 L571.1,198.7 L571.4,199.4 L571.8,200.0 L572.2,200.6 L572.8,201.2 L573.4,201.7 L574.1,202.3 L574.9,202.8 L575.7,203.3 L576.6,203.7 L577.6,204.2 L578.6,204.6 L579.6,205.0 L580.8,205.3 L581.9,205.6 L583.1,205.9 L584.3,206.1 L585.6,206.3 L586.9,206.5 L588.2,206.6 L589.5,206.7 L590.8,206.7 L592.1,206.7 L593.4,206.6 L594.7,206.5 L596.0,206.4 L597.3,206.2 L598.5,206.0 L599.7,205.8 L600.8,205.5 L602.0,205.1 L603.0,204.8 L604.0,204.4 L605.0,204.0 L605.9,203.5 L606.7,203.0 L607.5,202.5 L608.2,202.0 L608.8,201.4 L609.4,200.8 L609.8,200.3 L610.2,199.7 L610.5,199.0 L610.7,198.4 L610.8,197.8 L610.9,197.2 L610.9,161.2 L610.8,160.5 L610.7,159.9 L610.5,159.3 L610.2,158.6 L609.8,158.0 L609.4,157.4 L608.8,156.8 L608.2,156.3 L607.5,155.7 L606.7,155.2 L605.9,154.7 L605.0,154.3 L604.0,153.8 L603.0,153.4 L602.0,153.0 L600.8,152.7 L599.7,152.4 L598.5,152.1 L597.3,151.9 L596.0,151.7 L594.7,151.5 L593.4,151.4 L592.1,151.3 L590.8,151.3 L589.5,151.3 L588.2,151.4 L586.9,151.5 L585.6,151.6 L584.3,151.8 L583.1,152.0 L581.9,152.2 L580.8,152.5 L579.6,152.9 L578.6,153.2 L577.6,153.6 L576.6,154.0 L575.7,154.5 L574.9,155.0 L574.1,155.5 L573.4,156.0 L572.8,156.6 L572.2,157.2 L571.8,157.7 L571.4,158.3 L571.1,159.0 L570.9,159.6 L570.8,160.2 L570.7,160.8 Z" />
<path class="w" d="M601.6,164.2 L602.3,163.9 L602.9,163.4 L603.5,162.9 L604.1,162.2 L604.6,161.6 L605.1,160.8 L605.5,160.1 L605.8,159.2 L606.1,158.3 L606.3,157.4 L606.5,156.4 L606.6,155.3 L606.6,154.3 L606.6,153.2 L606.5,152.1 L606.3,150.9 L606.1,149.7 L605.8,148.6 L605.5,147.4 L605.1,146.2 L604.6,145.0 L604.1,143.9 L603.5,142.7 L602.9,141.6 L602.3,140.5 L601.6,139.4 L600.8,138.3 L600.0,137.3 L599.2,136.3 L598.3,135.4 L597.5,134.5 L596.6,133.7 L595.6,132.9 L594.7,132.2 L593.7,131.6 L592.8,131.0 L591.8,130.5 L590.8,130.0 L589.9,129.7 L588.9,129.4 L588.0,129.2 L587.0,129.0 L586.1,129.0 L585.3,129.0 L584.4,129.1 L583.6,129.2 L582.8,129.5 L582.0,129.8 L566.0,137.4 L565.3,137.8 L564.7,138.3 L564.1,138.8 L563.5,139.4 L563.0,140.1 L562.5,140.8 L562.1,141.6 L561.8,142.4 L561.5,143.3 L561.3,144.3 L561.1,145.3 L561.0,146.3 L561.0,147.4 L561.0,148.5 L561.1,149.6 L561.3,150.7 L561.5,151.9 L561.8,153.1 L562.1,154.3 L562.5,155.4 L563.0,156.6 L563.5,157.8 L564.1,158.9 L564.7,160.1 L565.3,161.2 L566.0,162.3 L566.8,163.3 L567.6,164.4 L568.4,165.3 L569.3,166.3 L570.1,167.1 L571.0,168.0 L572.0,168.7 L572.9,169.4 L573.9,170.1 L574.8,170.7 L575.8,171.2 L576.8,171.6 L577.7,172.0 L578.7,172.3 L579.6,172.5 L580.6,172.6 L581.5,172.7 L582.3,172.7 L583.2,172.6 L584.0,172.4 L584.8,172.2 L585.6,171.8 Z" /><circle r="1" class="w" vector-effect="non-scaling-stroke" transform="matrix(14.800 7.252 0.000 -16.546 575.80 154.62)" />
<circle r="1" class="l" vector-effect="non-scaling-stroke" transform="matrix(14.800 7.252 0.000 -16.546 577.80 153.68)" />
<path class="l" d="M583.5,136.6 L594.4,132.5 C600,131.2 604.8,135 605.6,141.5 C606.3,149 603.5,156.5 598,161 L591.8,165.3"/>
<path class="l" d="M596.2,133.5 C600.5,139 602,147 599.2,157.5"/>
<path class="w" d="M554.6,147.5 L562.1,144.0 L572.8,142.3 L583.5,154.4 L583.5,168.1 L576.0,171.7 L565.3,173.4 L554.6,161.3 Z" /><path class="l" d="M576.0,158.0 L565.3,145.9 L554.6,147.5 L554.6,161.3 L565.3,173.4 L576.0,171.7 Z" /><path class="l" d="M583.5,154.4 L576.0,158.0" /><path class="l" d="M572.8,142.3 L565.3,145.9" /><path class="l" d="M562.1,144.0 L554.6,147.5" /><path class="l" d="M583.5,168.1 L576.0,171.7" />
<path class="w" d="M573.3,173.8 L573.9,173.5 L574.5,173.1 L575.0,172.7 L575.4,172.2 L575.9,171.6 L576.2,171.0 L576.6,170.4 L576.9,169.7 L577.1,168.9 L577.3,168.1 L577.4,167.3 L577.5,166.5 L577.5,165.6 L577.5,164.7 L577.4,163.8 L577.3,162.8 L577.1,161.9 L576.9,160.9 L576.6,159.9 L576.2,158.9 L575.9,158.0 L575.4,157.0 L575.0,156.1 L574.5,155.1 L573.9,154.2 L573.3,153.3 L572.7,152.4 L572.1,151.6 L571.4,150.8 L570.7,150.0 L570.0,149.3 L569.2,148.6 L568.5,148.0 L567.7,147.4 L566.9,146.9 L566.1,146.4 L565.3,146.0 L564.5,145.6 L563.7,145.3 L562.9,145.1 L562.1,144.9 L561.4,144.8 L560.6,144.7 L559.9,144.7 L559.2,144.8 L558.5,145.0 L557.9,145.2 L557.3,145.4 L551.5,148.2 L550.9,148.5 L550.3,148.9 L549.8,149.3 L549.4,149.8 L548.9,150.4 L548.6,151.0 L548.2,151.6 L547.9,152.3 L547.7,153.1 L547.5,153.8 L547.4,154.7 L547.3,155.5 L547.3,156.4 L547.3,157.3 L547.4,158.2 L547.5,159.2 L547.7,160.1 L547.9,161.1 L548.2,162.1 L548.6,163.0 L548.9,164.0 L549.4,165.0 L549.8,165.9 L550.3,166.9 L550.9,167.8 L551.5,168.7 L552.1,169.5 L552.7,170.4 L553.4,171.2 L554.1,172.0 L554.8,172.7 L555.6,173.4 L556.3,174.0 L557.1,174.6 L557.9,175.1 L558.7,175.6 L559.5,176.0 L560.3,176.4 L561.1,176.7 L561.9,176.9 L562.7,177.1 L563.4,177.2 L564.2,177.3 L564.9,177.2 L565.6,177.2 L566.3,177.0 L566.9,176.8 L567.5,176.6 Z" /><circle r="1" class="w" vector-effect="non-scaling-stroke" transform="matrix(12.200 5.978 0.000 -13.640 559.50 162.37)" />
<circle r="1" class="l" vector-effect="non-scaling-stroke" transform="matrix(12.200 5.978 0.000 -13.640 561.80 161.28)" style="stroke-width:1.6"/>
<path class="w" d="M563.9,169.4 L564.2,169.3 L564.5,169.1 L564.7,168.9 L565.0,168.6 L565.2,168.3 L565.4,168.0 L565.5,167.7 L565.7,167.3 L565.8,167.0 L565.9,166.6 L565.9,166.1 L566.0,165.7 L566.0,165.3 L566.0,164.8 L565.9,164.3 L565.9,163.9 L565.8,163.4 L565.7,162.9 L565.5,162.4 L565.4,161.9 L565.2,161.4 L565.0,160.9 L564.7,160.4 L564.5,159.9 L564.2,159.5 L563.9,159.0 L563.6,158.6 L563.2,158.1 L562.9,157.7 L562.5,157.4 L562.2,157.0 L561.8,156.6 L561.4,156.3 L561.0,156.0 L560.6,155.7 L560.2,155.5 L559.8,155.3 L559.4,155.1 L559.0,155.0 L558.6,154.8 L558.2,154.7 L557.8,154.7 L557.4,154.7 L557.1,154.7 L556.7,154.7 L556.4,154.8 L556.0,154.9 L555.7,155.0 L546.7,159.3 L546.4,159.5 L546.1,159.6 L545.9,159.9 L545.6,160.1 L545.4,160.4 L545.2,160.7 L545.1,161.0 L544.9,161.4 L544.8,161.8 L544.7,162.2 L544.7,162.6 L544.6,163.0 L544.6,163.5 L544.6,163.9 L544.7,164.4 L544.7,164.9 L544.8,165.4 L544.9,165.9 L545.1,166.3 L545.2,166.8 L545.4,167.3 L545.6,167.8 L545.9,168.3 L546.1,168.8 L546.4,169.3 L546.7,169.7 L547.0,170.1 L547.4,170.6 L547.7,171.0 L548.1,171.4 L548.4,171.7 L548.8,172.1 L549.2,172.4 L549.6,172.7 L550.0,173.0 L550.4,173.2 L550.8,173.4 L551.2,173.6 L551.6,173.8 L552.0,173.9 L552.4,174.0 L552.8,174.0 L553.2,174.1 L553.5,174.1 L553.9,174.0 L554.2,174.0 L554.6,173.8 L554.9,173.7 Z" /><circle r="1" class="w" vector-effect="non-scaling-stroke" transform="matrix(6.200 3.038 0.000 -6.932 550.80 166.50)" />
<circle r="1" class="l" vector-effect="non-scaling-stroke" transform="matrix(3.500 1.715 0.000 -3.913 550.80 166.50)" />
<circle r="1" class="l" vector-effect="non-scaling-stroke" transform="matrix(1.500 0.735 0.000 -1.677 550.80 166.50)" />
<path class="w" d="M565.1,539.8 L565.2,540.6 L565.3,541.3 L565.6,542.0 L565.9,542.8 L566.4,543.5 L566.9,544.2 L567.5,544.9 L568.3,545.5 L569.1,546.1 L570.0,546.8 L570.9,547.3 L572.0,547.9 L573.1,548.4 L574.3,548.9 L575.6,549.3 L576.9,549.7 L578.2,550.1 L579.6,550.4 L581.1,550.7 L582.5,550.9 L584.0,551.1 L585.5,551.2 L587.1,551.3 L588.6,551.3 L590.1,551.3 L591.7,551.3 L593.2,551.1 L594.7,551.0 L596.1,550.8 L597.6,550.5 L599.0,550.2 L600.3,549.9 L601.6,549.5 L602.9,549.1 L604.1,548.6 L605.2,548.1 L606.3,547.6 L607.2,547.0 L608.1,546.4 L608.9,545.8 L609.7,545.2 L610.3,544.5 L610.8,543.8 L611.3,543.1 L611.6,542.4 L611.9,541.7 L612.0,540.9 L612.1,540.2 L612.1,477.6 L612.0,476.8 L611.9,476.1 L611.6,475.4 L611.3,474.6 L610.8,473.9 L610.3,473.2 L609.7,472.5 L608.9,471.9 L608.1,471.3 L607.2,470.6 L606.3,470.1 L605.2,469.5 L604.1,469.0 L602.9,468.5 L601.6,468.1 L600.3,467.7 L599.0,467.3 L597.6,467.0 L596.1,466.7 L594.7,466.5 L593.2,466.3 L591.7,466.2 L590.1,466.1 L588.6,466.1 L587.1,466.1 L585.5,466.1 L584.0,466.3 L582.5,466.4 L581.1,466.6 L579.6,466.9 L578.2,467.2 L576.9,467.5 L575.6,467.9 L574.3,468.3 L573.1,468.8 L572.0,469.3 L570.9,469.8 L570.0,470.4 L569.1,471.0 L568.3,471.6 L567.5,472.2 L566.9,472.9 L566.4,473.6 L565.9,474.3 L565.6,475.0 L565.3,475.7 L565.2,476.5 L565.1,477.2 Z" /><circle r="1" class="w" vector-effect="non-scaling-stroke" transform="matrix(16.600 8.134 16.600 -7.885 588.60 477.40)" />
<path class="l" d="M565.1,509.0 L565.2,509.8 L565.4,510.5 L565.7,511.3 L566.1,512.0 L566.6,512.7 L567.2,513.4 L567.8,514.1 L568.6,514.8 L569.5,515.4 L570.4,516.0 L571.5,516.6 L572.6,517.2 L573.8,517.7 L575.0,518.1 L576.3,518.6 L577.7,518.9 L579.1,519.3 L580.5,519.6 L582.0,519.8 L583.6,520.0 L585.1,520.2 L586.7,520.3 L588.2,520.3 L589.8,520.3 L591.4,520.3 L592.9,520.2 L594.4,520.0 L595.9,519.8 L597.4,519.6 L598.9,519.3 L600.2,518.9 L601.6,518.5 L602.9,518.1 L604.1,517.6 L605.2,517.1 L606.3,516.6 L607.3,516.0 L608.2,515.4 L609.0,514.8 L609.7,514.1 L610.4,513.4 L610.9,512.7 L611.3,512.0 L611.7,511.2 L611.9,510.5 L612.0,509.7 L612.1,509.0" />
<path class="l" style="stroke-width:2" d="M565.1,520.5 L565.2,521.3 L565.4,522.0 L565.7,522.8 L566.1,523.5 L566.6,524.2 L567.2,524.9 L567.8,525.6 L568.6,526.3 L569.5,526.9 L570.4,527.5 L571.5,528.1 L572.6,528.7 L573.8,529.2 L575.0,529.6 L576.3,530.1 L577.7,530.4 L579.1,530.8 L580.5,531.1 L582.0,531.3 L583.6,531.5 L585.1,531.7 L586.7,531.8 L588.2,531.8 L589.8,531.8 L591.4,531.8 L592.9,531.7 L594.4,531.5 L595.9,531.3 L597.4,531.1 L598.9,530.8 L600.2,530.4 L601.6,530.0 L602.9,529.6 L604.1,529.1 L605.2,528.6 L606.3,528.1 L607.3,527.5 L608.2,526.9 L609.0,526.3 L609.7,525.6 L610.4,524.9 L610.9,524.2 L611.3,523.5 L611.7,522.7 L611.9,522.0 L612.0,521.2 L612.1,520.5" />
<path class="w" d="M573.5,469.4 L573.5,469.9 L573.6,470.3 L573.8,470.8 L574.0,471.3 L574.3,471.7 L574.6,472.2 L575.0,472.6 L575.5,473.1 L576.0,473.5 L576.6,473.9 L577.2,474.2 L577.9,474.6 L578.6,474.9 L579.4,475.2 L580.2,475.5 L581.0,475.8 L581.9,476.0 L582.8,476.2 L583.7,476.4 L584.7,476.5 L585.6,476.6 L586.6,476.7 L587.6,476.8 L588.6,476.8 L589.6,476.8 L590.6,476.8 L591.6,476.7 L592.5,476.6 L593.5,476.5 L594.4,476.3 L595.3,476.1 L596.2,475.9 L597.0,475.6 L597.8,475.4 L598.6,475.1 L599.3,474.7 L600.0,474.4 L600.6,474.0 L601.2,473.7 L601.7,473.2 L602.2,472.8 L602.6,472.4 L602.9,472.0 L603.2,471.5 L603.4,471.0 L603.6,470.6 L603.7,470.1 L603.7,469.6 L603.7,451.3 L603.7,450.9 L603.6,450.4 L603.4,449.9 L603.2,449.4 L602.9,449.0 L602.6,448.5 L602.2,448.1 L601.7,447.7 L601.2,447.3 L600.6,446.9 L600.0,446.5 L599.3,446.1 L598.6,445.8 L597.8,445.5 L597.0,445.2 L596.2,445.0 L595.3,444.7 L594.4,444.5 L593.5,444.4 L592.5,444.2 L591.6,444.1 L590.6,444.0 L589.6,443.9 L588.6,443.9 L587.6,443.9 L586.6,444.0 L585.6,444.0 L584.7,444.1 L583.7,444.3 L582.8,444.4 L581.9,444.6 L581.0,444.8 L580.2,445.1 L579.4,445.4 L578.6,445.7 L577.9,446.0 L577.2,446.3 L576.6,446.7 L576.0,447.1 L575.5,447.5 L575.0,447.9 L574.6,448.3 L574.3,448.8 L574.0,449.2 L573.8,449.7 L573.6,450.2 L573.5,450.6 L573.5,451.1 Z" />
<path class="w" d="M592.2,431.4 L604.2,425.7 L615.5,423.9 L626.8,436.7 L626.8,451.2 L614.8,456.9 L603.5,458.7 L592.2,445.9 Z" /><path class="l" d="M614.8,442.4 L603.5,429.6 L592.2,431.4 L592.2,445.9 L603.5,458.7 L614.8,456.9 Z" /><path class="l" d="M626.8,436.7 L614.8,442.4" /><path class="l" d="M615.5,423.9 L603.5,429.6" /><path class="l" d="M604.2,425.7 L592.2,431.4" /><path class="l" d="M626.8,451.2 L614.8,456.9" />
<path class="w" d="M611.8,458.8 L612.4,458.5 L613.0,458.1 L613.5,457.6 L614.0,457.1 L614.4,456.5 L614.8,455.9 L615.1,455.2 L615.4,454.5 L615.7,453.8 L615.9,453.0 L616.0,452.1 L616.1,451.2 L616.1,450.3 L616.1,449.4 L616.0,448.4 L615.9,447.5 L615.7,446.5 L615.4,445.5 L615.1,444.5 L614.8,443.5 L614.4,442.5 L614.0,441.5 L613.5,440.5 L613.0,439.5 L612.4,438.6 L611.8,437.6 L611.2,436.7 L610.5,435.9 L609.8,435.0 L609.1,434.2 L608.3,433.5 L607.6,432.8 L606.8,432.1 L606.0,431.5 L605.1,431.0 L604.3,430.5 L603.5,430.1 L602.7,429.7 L601.9,429.4 L601.0,429.1 L600.2,428.9 L599.4,428.8 L598.7,428.8 L597.9,428.8 L597.2,428.9 L596.5,429.0 L595.8,429.2 L595.2,429.5 L592.2,430.9 L591.6,431.2 L591.0,431.6 L590.5,432.1 L590.0,432.6 L589.6,433.2 L589.2,433.8 L588.9,434.5 L588.6,435.2 L588.3,436.0 L588.1,436.8 L588.0,437.6 L587.9,438.5 L587.9,439.4 L587.9,440.3 L588.0,441.3 L588.1,442.3 L588.3,443.3 L588.6,444.3 L588.9,445.3 L589.2,446.3 L589.6,447.3 L590.0,448.3 L590.5,449.3 L591.0,450.2 L591.6,451.2 L592.2,452.1 L592.8,453.0 L593.5,453.9 L594.2,454.7 L594.9,455.5 L595.7,456.2 L596.4,456.9 L597.2,457.6 L598.0,458.2 L598.9,458.7 L599.7,459.2 L600.5,459.7 L601.3,460.0 L602.1,460.3 L603.0,460.6 L603.8,460.8 L604.6,460.9 L605.3,461.0 L606.1,460.9 L606.8,460.9 L607.5,460.7 L608.2,460.5 L608.8,460.2 Z" /><circle r="1" class="w" vector-effect="non-scaling-stroke" transform="matrix(12.600 6.174 0.000 -14.087 600.50 445.57)" />
<circle r="1" class="l" vector-effect="non-scaling-stroke" transform="matrix(12.600 6.174 0.000 -14.087 602.00 444.86)" style="stroke-width:2"/>
<path class="w" d="M608.4,459.5 L609.0,459.2 L609.5,458.8 L610.0,458.4 L610.5,457.9 L610.9,457.4 L611.3,456.8 L611.6,456.1 L611.9,455.5 L612.1,454.7 L612.3,454.0 L612.4,453.2 L612.5,452.3 L612.5,451.5 L612.5,450.6 L612.4,449.7 L612.3,448.7 L612.1,447.8 L611.9,446.8 L611.6,445.9 L611.3,444.9 L610.9,444.0 L610.5,443.0 L610.0,442.1 L609.5,441.2 L609.0,440.2 L608.4,439.4 L607.8,438.5 L607.2,437.7 L606.5,436.9 L605.8,436.1 L605.1,435.4 L604.4,434.8 L603.6,434.1 L602.8,433.6 L602.1,433.0 L601.3,432.6 L600.5,432.2 L599.7,431.8 L598.9,431.5 L598.2,431.3 L597.4,431.1 L596.6,431.0 L595.9,430.9 L595.2,430.9 L594.5,431.0 L593.8,431.2 L593.2,431.4 L592.6,431.6 L558.6,447.8 L558.0,448.1 L557.5,448.5 L557.0,448.9 L556.5,449.4 L556.1,449.9 L555.7,450.5 L555.4,451.2 L555.1,451.8 L554.9,452.6 L554.7,453.3 L554.6,454.1 L554.5,455.0 L554.5,455.8 L554.5,456.7 L554.6,457.6 L554.7,458.6 L554.9,459.5 L555.1,460.5 L555.4,461.4 L555.7,462.4 L556.1,463.3 L556.5,464.3 L557.0,465.2 L557.5,466.1 L558.0,467.1 L558.6,467.9 L559.2,468.8 L559.8,469.6 L560.5,470.4 L561.2,471.2 L561.9,471.9 L562.6,472.5 L563.4,473.2 L564.2,473.7 L564.9,474.3 L565.7,474.7 L566.5,475.1 L567.3,475.5 L568.1,475.8 L568.8,476.0 L569.6,476.2 L570.4,476.3 L571.1,476.4 L571.8,476.4 L572.5,476.3 L573.2,476.1 L573.8,475.9 L574.4,475.7 Z" /><circle r="1" class="w" vector-effect="non-scaling-stroke" transform="matrix(12.000 5.880 0.000 -13.416 566.50 461.73)" />
<path class="w" d="M575.2,476.0 L575.8,475.7 L576.4,475.3 L576.9,474.9 L577.4,474.3 L577.8,473.8 L578.2,473.2 L578.5,472.5 L578.8,471.8 L579.1,471.0 L579.3,470.2 L579.4,469.4 L579.5,468.5 L579.5,467.6 L579.5,466.7 L579.4,465.7 L579.3,464.8 L579.1,463.8 L578.8,462.8 L578.5,461.8 L578.2,460.8 L577.8,459.8 L577.4,458.8 L576.9,457.8 L576.4,456.9 L575.8,455.9 L575.2,455.0 L574.6,454.1 L573.9,453.3 L573.2,452.4 L572.5,451.7 L571.8,450.9 L571.0,450.2 L570.2,449.6 L569.4,449.0 L568.6,448.4 L567.8,447.9 L567.0,447.5 L566.2,447.1 L565.4,446.8 L564.6,446.6 L563.8,446.4 L563.0,446.3 L562.2,446.2 L561.5,446.2 L560.8,446.3 L560.1,446.5 L559.4,446.7 L558.8,446.9 L553.3,449.6 L552.7,449.9 L552.1,450.3 L551.6,450.7 L551.1,451.2 L550.7,451.8 L550.3,452.4 L550.0,453.1 L549.7,453.8 L549.4,454.6 L549.2,455.4 L549.1,456.2 L549.0,457.1 L549.0,458.0 L549.0,458.9 L549.1,459.9 L549.2,460.8 L549.4,461.8 L549.7,462.8 L550.0,463.8 L550.3,464.8 L550.7,465.8 L551.1,466.8 L551.6,467.7 L552.1,468.7 L552.7,469.7 L553.3,470.6 L553.9,471.5 L554.6,472.3 L555.2,473.1 L556.0,473.9 L556.7,474.7 L557.5,475.4 L558.3,476.0 L559.1,476.6 L559.9,477.2 L560.7,477.6 L561.5,478.1 L562.3,478.4 L563.1,478.8 L563.9,479.0 L564.7,479.2 L565.5,479.3 L566.3,479.4 L567.0,479.3 L567.8,479.3 L568.4,479.1 L569.1,478.9 L569.7,478.6 Z" /><path class="l" style="stroke-width:1.8" d="M566.7,478.1 L567.6,478.2 L568.4,478.3 L569.2,478.3 L570.0,478.1 L570.7,478.0 L571.5,477.7 L572.1,477.3 L572.7,476.9 L573.3,476.4 L573.8,475.9 L574.3,475.2 L574.7,474.6 L575.1,473.8 L575.4,473.0 L575.6,472.1 L575.8,471.2 L575.9,470.3 L575.9,469.3 L575.9,468.3 L575.8,467.2 L575.6,466.2 L575.4,465.1 L575.1,464.0 L574.8,462.9 L574.4,461.8 L573.9,460.7 L573.4,459.7 L572.8,458.6 L572.2,457.6 L571.6,456.6 L570.9,455.6 L570.1,454.7 L569.3,453.8 L568.5,452.9 L567.7,452.2 L566.8,451.4 L566.0,450.8 L565.1,450.2 L564.2,449.6 L563.3,449.2 L562.4,448.8 L561.5,448.5 L560.6,448.3 L559.8,448.1 L558.9,448.0 L558.1,448.0 L557.3,448.1" /><path class="l" style="stroke-width:1.5" d="M568.7,477.2 L569.6,477.3 L570.4,477.3 L571.2,477.3 L572.0,477.2 L572.7,477.0 L573.5,476.7 L574.1,476.4 L574.7,476.0 L575.3,475.5 L575.8,474.9 L576.3,474.3 L576.7,473.6 L577.1,472.9 L577.4,472.0 L577.6,471.2 L577.8,470.3 L577.9,469.3 L577.9,468.4 L577.9,467.3 L577.8,466.3 L577.6,465.2 L577.4,464.1 L577.1,463.1 L576.8,462.0 L576.4,460.9 L575.9,459.8 L575.4,458.7 L574.8,457.6 L574.2,456.6 L573.6,455.6 L572.9,454.6 L572.1,453.7 L571.3,452.8 L570.5,452.0 L569.7,451.2 L568.8,450.5 L568.0,449.8 L567.1,449.2 L566.2,448.7 L565.3,448.2 L564.4,447.9 L563.5,447.5 L562.6,447.3 L561.8,447.1 L560.9,447.1 L560.1,447.1 L559.3,447.2" /><circle r="1" class="w" vector-effect="non-scaling-stroke" transform="matrix(12.500 6.125 0.000 -13.975 561.50 464.10)" />
<path class="w" d="M565.9,471.9 L566.2,471.7 L566.5,471.5 L566.8,471.3 L567.1,471.0 L567.3,470.7 L567.5,470.4 L567.7,470.0 L567.8,469.6 L568.0,469.2 L568.1,468.8 L568.1,468.3 L568.2,467.9 L568.2,467.4 L568.2,466.9 L568.1,466.4 L568.1,465.9 L568.0,465.3 L567.8,464.8 L567.7,464.3 L567.5,463.7 L567.3,463.2 L567.1,462.7 L566.8,462.1 L566.5,461.6 L566.2,461.1 L565.9,460.6 L565.6,460.2 L565.2,459.7 L564.9,459.3 L564.5,458.8 L564.1,458.4 L563.7,458.1 L563.2,457.7 L562.8,457.4 L562.4,457.1 L561.9,456.8 L561.5,456.6 L561.1,456.4 L560.6,456.2 L560.2,456.1 L559.8,456.0 L559.3,456.0 L558.9,455.9 L558.5,455.9 L558.1,456.0 L557.8,456.0 L557.4,456.2 L557.1,456.3 L545.1,462.0 L544.8,462.2 L544.5,462.4 L544.2,462.6 L543.9,462.9 L543.7,463.2 L543.5,463.5 L543.3,463.9 L543.2,464.3 L543.0,464.7 L542.9,465.1 L542.9,465.6 L542.8,466.0 L542.8,466.5 L542.8,467.0 L542.9,467.5 L542.9,468.0 L543.0,468.6 L543.2,469.1 L543.3,469.6 L543.5,470.2 L543.7,470.7 L543.9,471.2 L544.2,471.8 L544.5,472.3 L544.8,472.8 L545.1,473.3 L545.4,473.7 L545.8,474.2 L546.1,474.6 L546.5,475.1 L546.9,475.5 L547.3,475.8 L547.8,476.2 L548.2,476.5 L548.6,476.8 L549.1,477.1 L549.5,477.3 L549.9,477.5 L550.4,477.7 L550.8,477.8 L551.2,477.9 L551.7,477.9 L552.1,478.0 L552.5,478.0 L552.9,477.9 L553.2,477.9 L553.6,477.7 L553.9,477.6 Z" /><circle r="1" class="w" vector-effect="non-scaling-stroke" transform="matrix(6.700 3.283 0.000 -7.491 549.50 469.80)" />
<circle r="1" class="l" vector-effect="non-scaling-stroke" transform="matrix(3.600 1.764 0.000 -4.025 549.50 469.80)" />
<circle r="1" class="l" vector-effect="non-scaling-stroke" transform="matrix(1.500 0.735 0.000 -1.677 549.50 469.80)" />
<rect x="431.5" y="522" width="1.5" height="1" fill="#b0b0b0"/><rect x="437.3" y="522" width="1.7" height="1" fill="#b0b0b0"/><rect x="441.3" y="522" width="1.7" height="1" fill="#b0b0b0"/><rect x="444.6" y="522" width="1.6" height="1" fill="#b0b0b0"/><rect x="447.9" y="522" width="1.6" height="1" fill="#b0b0b0"/><rect x="452.0" y="522" width="1.6" height="1" fill="#b0b0b0"/><rect x="465.8" y="522" width="8.2" height="1" fill="#b0b0b0"/><rect x="497.0" y="522" width="1.5" height="1" fill="#b0b0b0"/><rect x="523.0" y="522" width="2.5" height="1" fill="#b0b0b0"/>
<path d="M360.2,346.3 L360.2,352.9 M360.2,346.4 L358.2,348" fill="none" stroke="#444" stroke-width="1.15"/>
<text class="t" transform="translate(628.3 164) scale(0.85 1)">2</text>
<text class="t" transform="translate(628.3 319) scale(0.85 1)">3</text>
<text class="t" transform="translate(628.3 497) scale(0.85 1)">4</text>
</svg>
</body></html>
